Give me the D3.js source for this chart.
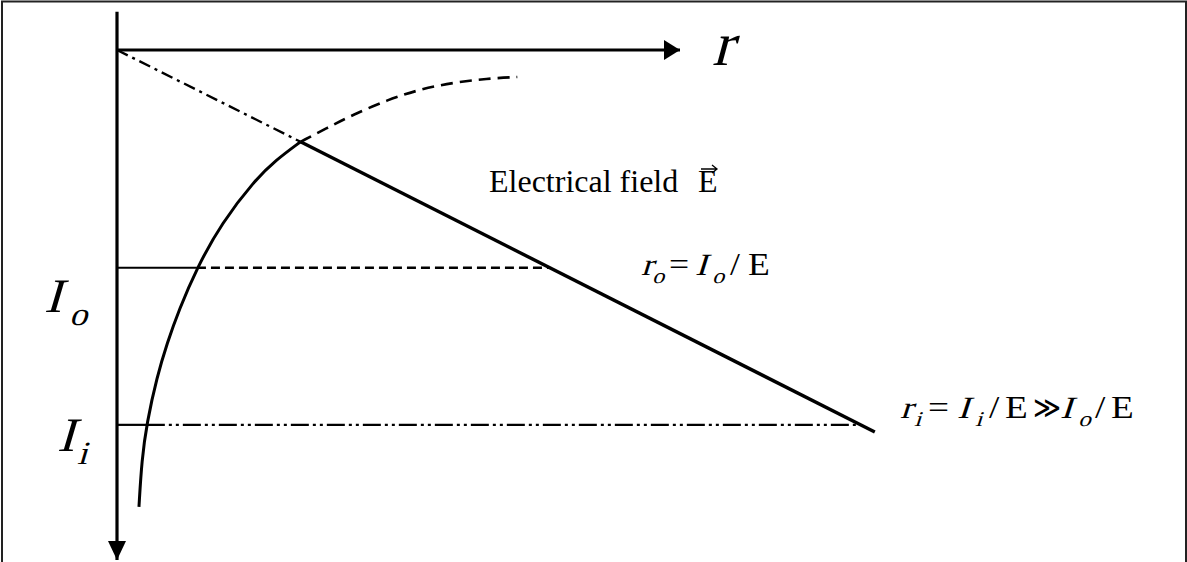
<!DOCTYPE html>
<html lang="en">
<head>
  <meta charset="UTF-8">
  <title>Electrical field and ring radius</title>
  <style>
    html, body { margin: 0; padding: 0; background: #fff; }
    svg { display: block; }
    text { font-family: "Liberation Serif", "Times New Roman", serif; fill: #000; }
  </style>
</head>
<body>
  <div id="chart"></div>
  <script src="https://d3js.org/d3.v7.min.js"></script>
  <script>
    const width = 1187, height = 562;

    // axis units: r to the right, I downwards (both 0..10 on the drawn arrows)
    const rDomain = [0, 10];
    const iDomain = [0, 10];

    // the curved boundary, solid part first
    const curveSolid = [
      [0.39, 8.96], [0.44, 8.04], [0.53, 7.31], [0.71, 6.41], [0.89, 5.75],
      [1.10, 5.10], [1.42, 4.27], [1.86, 3.39], [2.45, 2.55], [2.82, 2.16], [3.26, 1.80]
    ];
    const curveDashed = [
      [3.26, 1.80], [3.73, 1.53], [4.19, 1.27], [4.80, 0.98], [5.38, 0.77],
      [5.97, 0.64], [6.57, 0.56], [7.11, 0.53]
    ];

    // field line r = I / E : origin, crossing with the curve, end
    const fieldLine = [[0, 0], [3.26, 1.80], [13.46, 7.49]];

    // the two levels I_o and I_i
    const levelNames = ["o", "i"];
    const levelI = [4.27, 7.35];
    const levelCurveR = [1.42, 0.53];   // where the level meets the curve
    const levelFieldR = [7.68, 13.21];  // r_o, r_i
    const levelDash = ["9,5", "18,4,3,4,3,4"];

    const svg = d3.select("#chart").append("svg")
      .attr("width", width)
      .attr("height", height);

    const x = d3.scaleLinear().domain(rDomain).range([117, 680]);
    const y = d3.scaleLinear().domain(iDomain).range([50, 560]);

    // frame
    svg.append("rect")
      .attr("x", 2).attr("y", 1.5)
      .attr("width", 1184).attr("height", 620)
      .attr("fill", "none")
      .attr("stroke", "#222")
      .attr("stroke-width", 2);

    // arrow heads
    const defs = svg.append("defs");
    defs.append("marker")
      .attr("id", "headR")
      .attr("markerUnits", "userSpaceOnUse")
      .attr("viewBox", "0 -10 16 20")
      .attr("refX", 16).attr("refY", 0)
      .attr("markerWidth", 16).attr("markerHeight", 20)
      .attr("orient", "auto")
      .append("path").attr("d", "M0,-10L16,0L0,10Z").attr("fill", "#000");
    defs.append("marker")
      .attr("id", "headI")
      .attr("markerUnits", "userSpaceOnUse")
      .attr("viewBox", "0 -9 19 18")
      .attr("refX", 19).attr("refY", 0)
      .attr("markerWidth", 19).attr("markerHeight", 18)
      .attr("orient", "auto")
      .append("path").attr("d", "M0,-9L19,0L0,9Z").attr("fill", "#000");

    // axes
    svg.append("line")
      .attr("x1", x(0)).attr("y1", y(0))
      .attr("x2", x(10)).attr("y2", y(0))
      .attr("stroke", "#000").attr("stroke-width", 3.2)
      .attr("marker-end", "url(#headR)");
    svg.append("line")
      .attr("x1", x(0)).attr("y1", y(-0.75))
      .attr("x2", x(0)).attr("y2", y(10))
      .attr("stroke", "#000").attr("stroke-width", 3.2)
      .attr("marker-end", "url(#headI)");

    const line = d3.line().x(d => x(d[0])).y(d => y(d[1]));
    const smooth = d3.line().x(d => x(d[0])).y(d => y(d[1])).curve(d3.curveBasis);

    // field line: dash-dot until the curve, then solid
    svg.append("path")
      .attr("d", line(fieldLine.slice(0, 2)))
      .attr("fill", "none").attr("stroke", "#000").attr("stroke-width", 2.4)
      .attr("stroke-dasharray", "12,5,3,5");
    svg.append("path")
      .attr("d", line(fieldLine.slice(1)))
      .attr("fill", "none").attr("stroke", "#000").attr("stroke-width", 3.4);

    // curve
    svg.append("path")
      .attr("d", smooth(curveSolid))
      .attr("fill", "none").attr("stroke", "#000").attr("stroke-width", 3);
    svg.append("path")
      .attr("d", smooth(curveDashed))
      .attr("fill", "none").attr("stroke", "#000").attr("stroke-width", 2.6)
      .attr("stroke-dasharray", "12,7");

    // levels
    levelI.forEach((v, k) => {
      svg.append("line")
        .attr("x1", x(0)).attr("y1", y(v))
        .attr("x2", x(levelCurveR[k])).attr("y2", y(v))
        .attr("stroke", "#000").attr("stroke-width", 2.2);
      svg.append("line")
        .attr("x1", x(levelCurveR[k])).attr("y1", y(v))
        .attr("x2", x(levelFieldR[k])).attr("y2", y(v))
        .attr("stroke", "#000").attr("stroke-width", 2.4)
        .attr("stroke-dasharray", levelDash[k]);
    });

    // one glyph group of a formula; italic is drawn as a slanted serif face
    function piece(px, py, size, sx, txt, italic) {
      const tf = `translate(${px},${py}) scale(${sx},1)` + (italic ? " skewX(-15)" : "");
      return svg.append("text")
        .attr("transform", tf)
        .style("font-size", size + "px")
        .text(txt);
    }

    // formula row: parts = [text, italic, subscript, offset from row start, width factor]
    function mathRow(px, py, size, sx, parts) {
      parts.forEach(p => {
        const sub = p[2];
        piece(px + p[3], py + (sub ? size * 0.27 : 0), sub ? size * 0.68 : size,
          sx * (p[4] || 1), p[0], p[1]);
      });
    }

    // axis labels
    piece(712, 65, 62, 1, "r", true);
    mathRow(44, 312, 48, 1.1, [["I", true, false, 0], ["o", true, true, 25]]);
    mathRow(57, 451, 48, 1.1, [["I", true, false, 0], ["i", true, true, 20]]);

    // field caption
    svg.append("text").attr("x", 489).attr("y", 192)
      .style("font-size", "32px").text("Electrical field");
    svg.append("text").attr("x", 698).attr("y", 192)
      .style("font-size", "32px").text("E");
    svg.append("path")
      .attr("d", "M701,169H717M712,165L717,169L712,173")
      .attr("fill", "none").attr("stroke", "#000").attr("stroke-width", 1.3);

    // r_o and r_i
    mathRow(641, 275, 31, 1.15, [
      ["r", true, false, 0], ["o", true, true, 11], ["=", false, false, 28],
      ["I", true, false, 54], ["o", true, true, 71], ["/", false, false, 89], ["E", false, false, 107]
    ]);
    mathRow(900, 418, 31, 1.2, [
      ["r", true, false, 0], ["i", true, true, 14], ["=", false, false, 28],
      ["I", true, false, 57], ["i", true, true, 75], ["/", false, false, 89], ["E", false, false, 105],
      ["\u226B", false, false, 133, 0.72], ["I", true, false, 160], ["o", true, true, 178],
      ["/", false, false, 195], ["E", false, false, 211]
    ]);
  </script>
</body>
</html>
